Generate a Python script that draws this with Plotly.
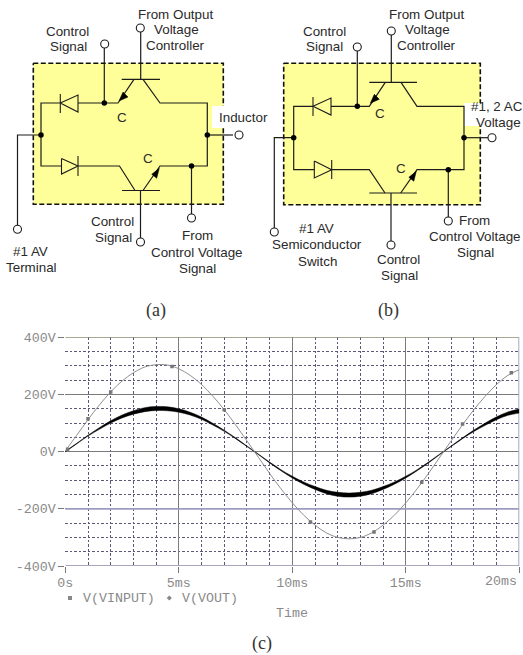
import plotly.graph_objects as go

W, H = 523, 655

# ---- waveform data ----
time_ms = [i * 0.5 for i in range(41)]
v_input = [3, 57, 112, 163, 209, 247, 276, 296, 304, 303, 290, 267, 235, 194, 147, 94, 38, -19, -76, -130, -179,
           -222, -257, -284, -300, -305, -300, -284, -257, -222, -179, -130, -76, -19, 38, 94, 147, 194, 235, 267, 287]
v_out_upper = [1, 29, 57.5, 84, 108, 128, 143, 154, 158, 157, 150, 138, 121, 99, 75, 48.5, 20, -8, -36.5, -63, -86,
               -106, -122, -135, -142, -145, -142, -135, -122, -106, -86, -63, -36.5, -8, 20, 48.5, 75.5, 100, 122, 139, 149]
v_out_lower = [-1, 27, 54.5, 78, 100, 118, 131, 140, 144, 143, 138, 128, 113, 93, 71, 45.5, 18, -10, -39.5, -67, -92,
               -114, -132, -147, -156, -159, -156, -147, -132, -114, -92, -67, -39.5, -10, 18, 45.5, 70.5, 92, 112, 127, 135]
marker_t = [0.1, 1.0, 2.0, 4.7, 7.0, 10.8, 13.6, 15.7, 17.5, 19.65]
marker_v = [8, 115, 209, 298, 147, -246, -281, -107, 97, 276]
x_ticks = [0, 5, 10, 15, 20]
x_labels = ["0s", "5ms", "10ms", "15ms", ""]
y_ticks = [-400, -200, 0, 200, 400]
y_labels = ["-400V", "-200V", "0V", "200V", "400V"]

# ---- schematic geometry (page pixels) ----
box_a_x = [33.3, 223.3, 223.3, 33.3, 33.3]
box_a_y = [63.3, 63.3, 204.3, 204.3, 63.3]
box_b_x = [283.7, 480.3, 480.3, 283.7, 283.7]
box_b_y = [63.3, 63.3, 204.7, 204.7, 63.3]
patch_a_x = [212, 225, 225, 212, 212]
patch_a_y = [106, 106, 128, 128, 106]
patch_b_x = [464, 482, 482, 464, 464]
patch_b_y = [103, 103, 126, 126, 103]

wire_a_x = [17.5, 17.5, 41, None, 60, 41, 41, 61.5, None, 78, 118, 134, None, 121.7, 160, None, 143, 160, 207.3, 207.3, 160, 143, None,
            160, 122, None, 135, 119.5, 78, None, 207.3, 233, None, 104.3, 104.3, None, 140.7, 140.7, None, 140.5, 140.5, None, 191.5, 191.5]
wire_a_y = [225, 135, 135, None, 103, 103, 166, 166, None, 103, 103, 79.3, None, 79.3, 79.3, None, 79.3, 103, 103, 166, 166, 190.5, None,
            190.5, 190.5, None, 190.5, 166, 166, None, 135, 135, None, 103, 48, None, 79.3, 32, None, 190.5, 238, None, 166, 214]
diode_a_x = [60.3, 78, 78, 60.3, None, 60.3, 60.3, None, 61.5, 61.5, 78, 61.5, None, 78, 78]
diode_a_y = [103, 95, 112, 103, None, 94, 113, None, 158.5, 174, 166, 158.5, None, 156, 176]
arrow_a_x = [119, 123, 128, 119, None, 159.3, 151.7, 156.7, 159.3]
arrow_a_y = [101, 92, 97, 101, None, 168.3, 174.3, 178.3, 168.3]
node_a_x = [41, 104.3, 207.3, 191.5]
node_a_y = [135, 103, 135, 166]
term_a_x = [17.5, 104.7, 140.3, 239, 191.5, 140.5]
term_a_y = [229.3, 44, 28, 135, 218, 242]

wire_b_x = [274.3, 274.3, 293.7, None, 313, 293.7, 293.7, 314.3, None, 331, 369.3, 385.3, None, 369.3, 417, None, 401, 417, 464, 464, 417, 400.7, None,
            417, 369.3, None, 385, 369.3, 331.7, None, 464, 488, None, 357.3, 357.3, None, 391.3, 391.3, None, 391, 391, None, 448.3, 448.3]
wire_b_y = [228, 137.7, 137.7, None, 106.3, 106.3, 169.7, 169.7, None, 106.3, 106.3, 82.3, None, 82.3, 82.3, None, 82.3, 106.3, 106.3, 169.7, 169.7, 193, None,
            193, 193, None, 193, 169.7, 169.7, None, 137.7, 137.7, None, 106.3, 51, None, 82.3, 35, None, 193, 241, None, 169.7, 217]
diode_b_x = [313, 331, 331, 313, None, 313, 313, None, 314.3, 314.3, 331.7, 314.3, None, 331.7, 331.7]
diode_b_y = [106.3, 98, 115, 106.3, None, 97, 116, None, 161, 178, 169.7, 161, None, 160, 179]
arrow_b_x = [370.3, 374.3, 379.3, 370.3, None, 416.3, 408.8, 413.8, 416.3]
arrow_b_y = [103.3, 94.3, 99.3, 103.3, None, 171.3, 177.3, 181.3, 171.3]
node_b_x = [293.7, 357.3, 464, 448.3]
node_b_y = [137.7, 106.3, 137.7, 169.7]
term_b_x = [274.3, 357.3, 391.3, 492, 448.3, 391]
term_b_y = [232, 47, 31, 137.7, 221, 245]

# ---- labels: text, x, y, anchor ----
sans_labels = [
    ("From Output", 175, 14), ("Voltage", 176, 29), ("Controller", 175, 45),
    ("Control", 67, 31), ("Signal", 68, 46),
    ("Control", 112, 221), ("Signal", 113, 237),
    ("From", 197, 235), ("Control Voltage", 197, 252), ("Signal", 197, 268),
    ("#1 AV", 30, 251), ("Terminal", 31, 267),
    ("Inductor", 243, 117), ("C", 122, 117), ("C", 148, 158.5),
    ("From Output", 426, 14), ("Voltage", 427, 29), ("Controller", 426, 45),
    ("Control", 324, 31), ("Signal", 324, 46),
    ("#1, 2 AC", 497, 106), ("Voltage", 498, 122),
    ("#1 AV", 316, 228), ("Semiconductor", 316.7, 244), ("Switch", 317, 261),
    ("Control", 398.7, 259), ("Signal", 399, 275),
    ("From", 474, 220), ("Control Voltage", 474.7, 236), ("Signal", 475, 252),
    ("C", 380, 113), ("C", 400.7, 168),
]
captions = [("(a)", 155.7, 310.5), ("(b)", 388.7, 310.5), ("(c)", 262, 643)]
mono_labels = [("V(VINPUT)", 118.5, 598), ("V(VOUT)", 209.5, 598), ("Time", 292, 613.3)]
legend_x = [70, 169.3]
legend_y = [598, 598]
legend_sym = ["square", "diamond"]

INK = "#1c1c1c"
MONO = "Liberation Mono, monospace"
GREY = "#8a8a8a"

fig = go.Figure()

# waveform
fig.add_trace(go.Scatter(x=time_ms, y=v_out_upper, mode="lines", line=dict(color="#000", width=0.5, shape="spline"), hoverinfo="skip"))
fig.add_trace(go.Scatter(x=time_ms, y=v_out_lower, mode="lines", fill="tonexty", fillcolor="#000",
                         line=dict(color="#000", width=0.5, shape="spline"), hoverinfo="skip"))
fig.add_trace(go.Scatter(x=time_ms, y=v_input, mode="lines", line=dict(color="#8f8f8f", width=1, shape="spline"), hoverinfo="skip"))
fig.add_trace(go.Scatter(x=marker_t, y=marker_v, mode="markers", marker=dict(symbol="square", size=3.5, color="#777"), hoverinfo="skip"))


def ov(**kw):
    fig.add_trace(go.Scatter(xaxis="x2", yaxis="y2", hoverinfo="skip", **kw))


for bx, by, px, py, wx, wy, dx, dy, ax, ay, nx, ny, tx, ty in [
    (box_a_x, box_a_y, patch_a_x, patch_a_y, wire_a_x, wire_a_y, diode_a_x, diode_a_y, arrow_a_x, arrow_a_y, node_a_x, node_a_y, term_a_x, term_a_y),
    (box_b_x, box_b_y, patch_b_x, patch_b_y, wire_b_x, wire_b_y, diode_b_x, diode_b_y, arrow_b_x, arrow_b_y, node_b_x, node_b_y, term_b_x, term_b_y),
]:
    ov(x=bx, y=by, mode="lines", fill="toself", fillcolor="#FFFF99", line=dict(color="#111", width=1.6, dash="5px,2.5px"))
    ov(x=px, y=py, mode="lines", fill="toself", fillcolor="#fff", line=dict(color="#fff", width=0))
    ov(x=wx, y=wy, mode="lines", line=dict(color=INK, width=1.2))
    ov(x=dx, y=dy, mode="lines", line=dict(color=INK, width=1.1))
    ov(x=ax, y=ay, mode="lines", fill="toself", fillcolor="#000", line=dict(color="#000", width=0.5))
    ov(x=nx, y=ny, mode="markers", marker=dict(size=5.5, color="#000"))
    ov(x=tx, y=ty, mode="markers", marker=dict(size=8, color="#fff", line=dict(color=INK, width=1.1)))

ov(x=legend_x, y=legend_y, mode="markers", marker=dict(size=4, color="#888", symbol=legend_sym))

anns = []
for t, x, y in sans_labels:
    anns.append(dict(text=t, x=x, y=y, xref="x2", yref="y2", showarrow=False,
                     font=dict(family="Liberation Sans, Arial", size=13.4, color="#2a2a2a")))
for t, x, y in captions:
    anns.append(dict(text=t, x=x, y=y, xref="x2", yref="y2", showarrow=False,
                     font=dict(family="Liberation Serif, serif", size=18, color="#333")))
for t, x, y in mono_labels:
    anns.append(dict(text=t, x=x, y=y, xref="x2", yref="y2", showarrow=False,
                     font=dict(family=MONO, size=13.3, color=GREY)))
anns.append(dict(text="20ms", x=20, y=581.7, xref="x", yref="y2", xanchor="right", showarrow=False,
                 font=dict(family=MONO, size=13.3, color=GREY)))

shapes = [
    dict(type="line", xref="x", yref="y", x0=0, x1=20, y0=yy, y1=yy, line=dict(color=c, width=w), layer="between")
    for yy, c, w in [(-200, "#9c9cc0", 1.8), (-400, "#a8a8bc", 2), (400, "#8e8e70", 1.3)]
] + [dict(type="line", xref="x", yref="y", x0=20, x1=20, y0=-400, y1=400, line=dict(color="#a8a8c4", width=2), layer="between")]

grid_minor = dict(tickmode="linear", showgrid=True, griddash="2.5px,2px", gridcolor="#5a5a78", gridwidth=1, ticks="")

fig.update_layout(
    width=W, height=H, autosize=False, showlegend=False,
    margin=dict(l=0, r=0, t=0, b=0, pad=0),
    paper_bgcolor="#fff", plot_bgcolor="rgba(0,0,0,0)",
    annotations=anns, shapes=shapes,
    xaxis=dict(domain=[65.3 / W, 519.3 / W], range=[0, 20], tickmode="array", tickvals=x_ticks, ticktext=x_labels, automargin=False,
               ticks="outside", ticklen=6, tickcolor="#777", showgrid=True, gridcolor="#7b7b7b", gridwidth=1.2, ticklabelstandoff=-2,
               zeroline=False, showline=False, tickfont=dict(family=MONO, size=13.3, color=GREY), anchor="y",
               minor=dict(tick0=0, dtick=1, **grid_minor)),
    yaxis=dict(domain=[1 - 566 / H, 1 - 337.3 / H], range=[-400, 400], tickmode="array", tickvals=y_ticks, ticktext=y_labels, automargin=False,
               ticks="outside", ticklen=6, tickcolor="#777", showgrid=True, gridcolor="#7b7b7b", gridwidth=1.2,
               zeroline=False, showline=False, tickfont=dict(family=MONO, size=13.3, color=GREY), anchor="x",
               minor=dict(tick0=0, dtick=50, **grid_minor)),
    xaxis2=dict(domain=[0, 1], range=[0, W], visible=False, anchor="y2", fixedrange=True, automargin=False),
    yaxis2=dict(domain=[0, 1], range=[H, 0], visible=False, anchor="x2", fixedrange=True, automargin=False),
)

fig.write_html("out.html", config=dict(displayModeBar=False),
               post_script="document.body.style.margin='0';document.documentElement.style.overflow='hidden';")
